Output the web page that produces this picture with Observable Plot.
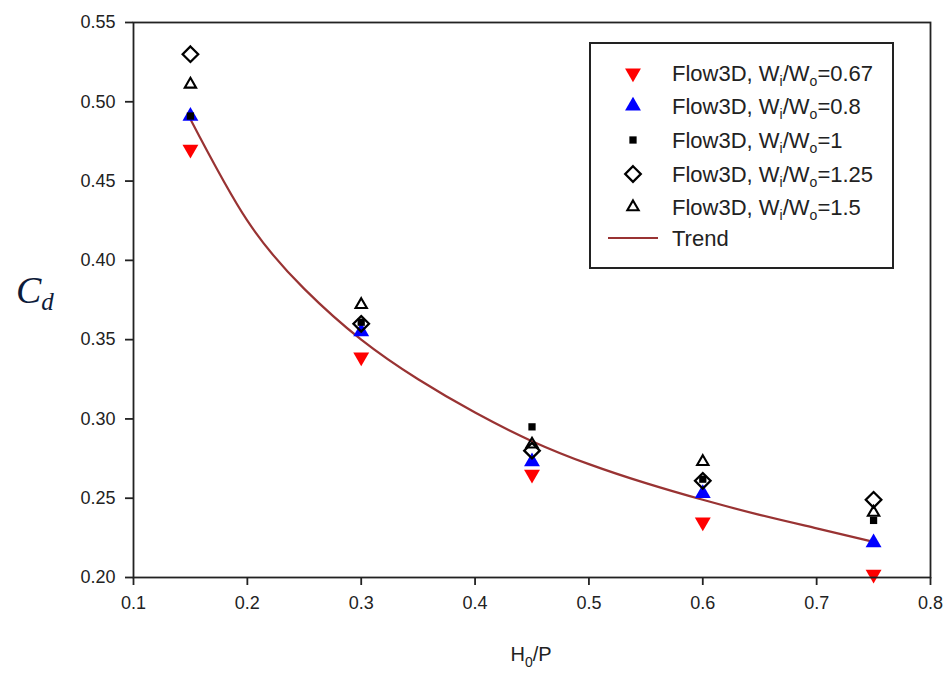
<!DOCTYPE html>
<html><head><meta charset="utf-8">
<script src="https://cdn.jsdelivr.net/npm/d3@7"></script>
<script src="https://cdn.jsdelivr.net/npm/@observablehq/plot@0.6"></script>
<style>body{margin:0;background:#fff;}</style>
</head><body><div id="chart"></div>
<script>
// H0/P positions
const xH = [0.15, 0.30, 0.45, 0.60, 0.75];
// Cd values per Wi/Wo ratio
const cd067 = [0.470, 0.339, 0.265, 0.235, 0.202];
const cd08  = [0.491, 0.355, 0.273, 0.253, 0.222];
const cd1   = [0.491, 0.361, 0.295, 0.262, 0.236];
const cd125 = [0.530, 0.360, 0.280, 0.261, 0.249];
const cd15  = [0.511, 0.372, 0.284, 0.273, 0.241];
// Trend curve
const trendX = [0.15, 0.20, 0.25, 0.30, 0.35, 0.40, 0.45, 0.50, 0.55, 0.60, 0.65, 0.70, 0.75];
const trendY = [0.489, 0.425, 0.382, 0.350, 0.325, 0.304, 0.286, 0.2715, 0.2595, 0.249, 0.2395, 0.231, 0.2225];
// Tick labels
const xTicks = [0.1, 0.2, 0.3, 0.4, 0.5, 0.6, 0.7, 0.8];
const yTicks = [0.20, 0.25, 0.30, 0.35, 0.40, 0.45, 0.50, 0.55];
const ratioLabels = ["0.67", "0.8", "1", "1.25", "1.5"];

const seriesValues = [cd067, cd08, cd1, cd125, cd15];
const styles = [
  {symbol: "triangle", r: 5.9, fill: "#ff0000", stroke: "none", rotate: 180, sw: 0},
  {symbol: "triangle", r: 5.9, fill: "#0000ff", stroke: "none", rotate: 0, sw: 0},
  {symbol: "square", r: 4.1, fill: "#000", stroke: "none", rotate: 0, sw: 0},
  {symbol: "diamond2", r: 7, fill: "none", stroke: "#000", rotate: 0, sw: 2.3},
  {symbol: "triangle", r: 4.2, fill: "none", stroke: "#000", rotate: 0, sw: 2.1}
];
const trendColor = "#993333";
const fontSans = "'Liberation Sans', Arial, sans-serif";

const trend = trendX.map((x, i) => ({x, y: trendY[i]}));
const dotMarks = seriesValues.map((vals, k) => {
  const s = styles[k];
  const data = xH.map((x, i) => ({x, y: vals[i]}));
  return Plot.dot(data, {x: "x", y: "y", symbol: () => s.symbol, r: s.r, fill: s.fill, stroke: s.stroke, strokeWidth: s.sw, rotate: s.rotate});
});

const W = 944, H = 674;
const plot = Plot.plot({
  width: W, height: H,
  marginLeft: 133, marginRight: 14, marginTop: 22, marginBottom: 97,
  style: {fontFamily: fontSans, fontSize: "18px", color: "#222", background: "#fff"},
  x: {domain: [0.1, 0.8]},
  y: {domain: [0.2, 0.55]},
  symbol: {type: "identity"},
  marks: [
    Plot.line(trend, {x: "x", y: "y", curve: "natural", stroke: trendColor, strokeWidth: 2.2}),
    ...dotMarks,
    Plot.frame({stroke: "#222", strokeWidth: 1.8}),
    Plot.axisX({ticks: xTicks, tickFormat: d3.format(".1f"), tickSize: 8, tickPadding: 11, label: null, stroke: "#222", strokeWidth: 1.8}),
    Plot.axisY({ticks: yTicks, tickFormat: d3.format(".2f"), tickSize: 8, tickPadding: 10, label: null, stroke: "#222", strokeWidth: 1.8})
  ]
});
document.getElementById("chart").appendChild(plot);

const svg = d3.select(plot);
// Axis titles
const xl = svg.append("text").attr("x", 531).attr("y", 661).attr("text-anchor", "middle")
  .style("font-family", fontSans).style("font-size", "20px").attr("fill", "#222");
xl.append("tspan").text("H");
xl.append("tspan").attr("dy", 6).style("font-size", "14px").text("0");
xl.append("tspan").attr("dy", -6).text("/P");

const yl = svg.append("text").attr("x", 16).attr("y", 303).attr("text-anchor", "start")
  .style("font-family", "'Liberation Serif', 'DejaVu Serif', serif").style("font-style", "italic")
  .style("font-size", "38px").attr("fill", "#0d1b3a");
yl.append("tspan").text("C");
yl.append("tspan").attr("dy", 7).style("font-size", "25px").text("d");

// Legend
const lg = svg.append("g").style("font-family", fontSans).style("font-size", "22px").attr("text-anchor", "start");
lg.append("rect").attr("x", 590).attr("y", 43).attr("width", 303).attr("height", 225)
  .attr("fill", "#fff").attr("stroke", "#222").attr("stroke-width", 2);
const rowY = [73, 106, 140, 174, 207, 238];
const symMap = {triangle: d3.symbolTriangle, square: d3.symbolSquare, diamond2: d3.symbolDiamond2};
ratioLabels.forEach((lab, k) => {
  const s = styles[k];
  lg.append("path").attr("d", d3.symbol(symMap[s.symbol], Math.PI * s.r * s.r)())
    .attr("transform", `translate(633,${rowY[k]}) rotate(${s.rotate})`)
    .attr("fill", s.fill).attr("stroke", s.stroke).attr("stroke-width", s.sw);
  const t = lg.append("text").attr("x", 672).attr("y", rowY[k] + 8).attr("fill", "#222").attr("text-anchor", "start");
  t.append("tspan").text("Flow3D, W");
  t.append("tspan").attr("dy", 5).style("font-size", "14px").text("i");
  t.append("tspan").attr("dy", -5).text("/W");
  t.append("tspan").attr("dy", 5).style("font-size", "14px").text("o");
  t.append("tspan").attr("dy", -5).text("=" + lab);
});
lg.append("line").attr("x1", 608).attr("x2", 658).attr("y1", rowY[5]).attr("y2", rowY[5])
  .attr("stroke", trendColor).attr("stroke-width", 2.2);
lg.append("text").attr("x", 672).attr("y", rowY[5] + 8).attr("fill", "#222").attr("text-anchor", "start").text("Trend");
</script></body></html>
